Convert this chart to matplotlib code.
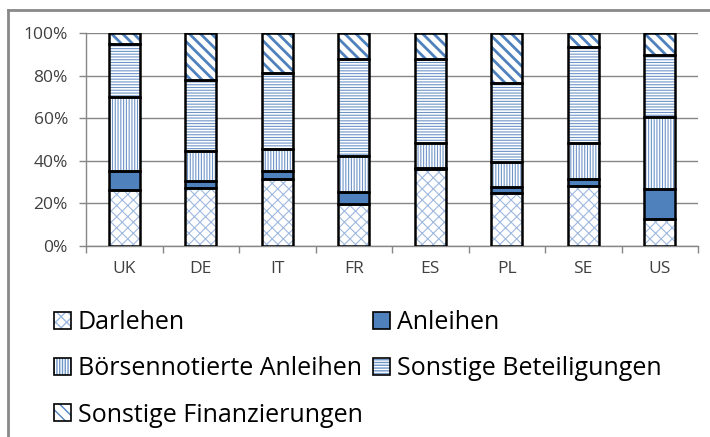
import numpy as np
import matplotlib
matplotlib.use("Agg")
import matplotlib.pyplot as plt
from matplotlib.patches import Patch
from matplotlib.lines import Line2D
from matplotlib.legend_handler import HandlerTuple

# Anteile je Land in Prozent
laender = ["UK", "DE", "IT", "FR", "ES", "PL", "SE", "US"]
darlehen = [26.3, 27.4, 31.3, 19.6, 36.3, 25.0, 28.2, 12.5]
anleihen = [9.1, 3.1, 4.1, 5.9, 0.5, 2.6, 3.3, 14.1]
boersen = [34.7, 14.1, 10.0, 16.8, 11.4, 12.0, 16.7, 33.8]
beteiligungen = [24.6, 33.3, 36.0, 45.5, 39.4, 37.1, 45.1, 29.3]
finanzierungen = [5.3, 22.1, 18.6, 12.2, 12.4, 23.3, 6.7, 10.3]

namen = ["Darlehen", "Anleihen", "Börsennotierte Anleihen",
         "Sonstige Beteiligungen", "Sonstige Finanzierungen"]
reihen = [darlehen, anleihen, boersen, beteiligungen, finanzierungen]

# fill, hatch, hatch colour, hatch width
stile = [
    ("white", "xxx", "#9fb9df", 0.8),
    ("#4f81bd", None, "#4f81bd", 0.8),
    ("white", "||||||", "#6f95c8", 0.8),
    ("white", "------", "#6f95c8", 0.8),
    ("white", "\\\\\\", "#4f81bd", 2.0),
]

plt.rcParams["font.family"] = ["Open Sans", "DejaVu Sans"]

fig = plt.figure(figsize=(7.1, 4.37), dpi=100)
ax = fig.add_axes([86 / 710, 1 - 246 / 437, 612 / 710, 213 / 437])

x = np.arange(len(laender))
breite = 0.41
unten = np.zeros(len(laender))
handles = []
for name, werte, (fc, hatch, hc, hlw) in zip(namen, reihen, stile):
    werte = np.array(werte)
    bars = ax.bar(x, werte, breite, bottom=unten, color=fc, hatch=hatch,
                  edgecolor=hc, linewidth=0, zorder=3)
    for b in bars:
        try:
            b.set_hatch_linewidth(hlw)
        except AttributeError:
            pass
    ax.bar(x, werte, breite, bottom=unten, fill=False, edgecolor="black",
           linewidth=1.8, zorder=4)
    unten += werte
    h1 = Patch(facecolor=fc, hatch=hatch, edgecolor=hc, linewidth=0)
    try:
        h1.set_hatch_linewidth(hlw)
    except AttributeError:
        pass
    h2 = Patch(fill=False, edgecolor="black", linewidth=1.2)
    handles.append((h1, h2))

ax.set_xlim(-0.5, len(laender) - 0.5)
ax.set_ylim(0, 100)
ax.set_yticks(np.arange(0, 101, 20))
ax.set_yticklabels([f"{v}%" for v in range(0, 101, 20)])
ax.set_xticks(x)
ax.set_xticklabels(laender)
ax.set_xticks(np.arange(-0.5, len(laender)), minor=True)
ax.tick_params(axis="x", which="major", length=0, pad=11, labelsize=12.5, colors="#404040")
ax.tick_params(axis="x", which="minor", length=5, color="#868686", width=1)
ax.tick_params(axis="y", length=5, color="#868686", width=1, pad=8,
               labelsize=12.5, labelcolor="#404040")
ax.grid(axis="y", color="#868686", linewidth=1, zorder=0)
for s in ["top", "right"]:
    ax.spines[s].set_visible(False)
for s in ["left", "bottom"]:
    ax.spines[s].set_color("#868686")
    ax.spines[s].set_linewidth(1)

# Legende spaltenweise sortiert
reihenfolge = [0, 2, 4, 1, 3]
fig.legend([handles[i] for i in reihenfolge], [namen[i] for i in reihenfolge],
           handler_map={tuple: HandlerTuple(ndivide=1)},
           ncol=2, loc="upper left", bbox_to_anchor=(54 / 710, 1 - 310 / 437),
           frameon=False, fontsize=18, handlelength=0.68, handleheight=0.68,
           handletextpad=0.28, columnspacing=0.4, labelspacing=0.85,
           borderaxespad=0, borderpad=0)

# Rahmen links und oben
fig.add_artist(Line2D([8 / 710, 8 / 710], [0, 1 - 10 / 437],
                      transform=fig.transFigure, color="#898989", linewidth=2))
fig.add_artist(Line2D([8 / 710, 1], [1 - 10 / 437, 1 - 10 / 437],
                      transform=fig.transFigure, color="#898989", linewidth=2))

fig.savefig("out.png", dpi=100)
